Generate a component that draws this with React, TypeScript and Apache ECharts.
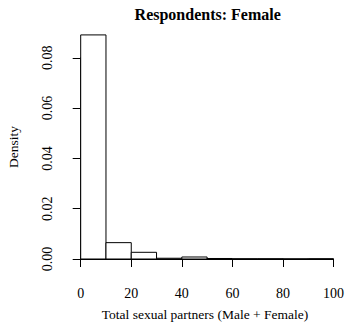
import React, { useEffect, useRef } from "react";
import * as echarts from "echarts";

// Histogram bins (lower and upper edges) and their densities
const binStarts = [0, 10, 20, 30, 40, 50, 60, 70, 80, 90];
const binEnds = [10, 20, 30, 40, 50, 60, 70, 80, 90, 100];
const densities = [0.0891, 0.0065, 0.00266, 0.0003, 0.0008, 0.0002, 0.0001, 0.0001, 0.00005, 0.0001];

const xTicks = [0, 20, 40, 60, 80, 100];
const yTicks = [0, 0.02, 0.04, 0.06, 0.08];

const chartTitle = "Respondents: Female";
const xTitle = "Total sexual partners (Male + Female)";
const yTitle = "Density";

const FONT = "'Liberation Serif', 'Times New Roman', serif";

export default function App() {
  const ref = useRef<HTMLDivElement>(null);

  useEffect(() => {
    document.body.style.margin = "0";
    const chart = echarts.init(ref.current!, undefined, { renderer: "svg" });

    const plotLeft = 80.7;
    const plotRight = 347 - 334.7;
    const baseY = 259;
    const pxPer = 50.3 / 0.02;
    const yMax = 0.09;
    const top0 = baseY - yMax * pxPer;
    const top1 = baseY - yTicks[yTicks.length - 1] * pxPer;
    const bottom = 334 - baseY;

    const data = binStarts.map((s, i) => [s, binEnds[i], densities[i]]);

    chart.setOption({
      animation: false,
      backgroundColor: "#ffffff",
      grid: [
        { left: plotLeft, right: plotRight, top: top0, bottom },
        { left: plotLeft, right: plotRight, top: top1, bottom },
      ],
      xAxis: [
        {
          gridIndex: 0,
          type: "value",
          min: 0,
          max: 100,
          interval: 20,
          offset: 9,
          axisLine: { show: true, lineStyle: { color: "#000", width: 1 } },
          axisTick: { show: true, length: 8, inside: false, lineStyle: { color: "#000" } },
          axisLabel: {
            show: true,
            margin: 18,
            color: "#000",
            fontFamily: FONT,
            fontSize: 14,
            customValues: xTicks,
          },
          splitLine: { show: false },
        },
        {
          gridIndex: 1,
          type: "value",
          min: 0,
          max: 100,
          show: false,
        },
      ],
      yAxis: [
        {
          gridIndex: 0,
          type: "value",
          min: 0,
          max: yMax,
          show: false,
        },
        {
          gridIndex: 1,
          type: "value",
          min: 0,
          max: 0.08,
          interval: 0.02,
          offset: 10,
          axisLine: { show: true, lineStyle: { color: "#000", width: 1 } },
          axisTick: { show: true, length: 8, lineStyle: { color: "#000" } },
          axisLabel: {
            show: true,
            rotate: 90,
            margin: 16,
            color: "#000",
            fontFamily: FONT,
            fontSize: 14,
            formatter: (v: number) => v.toFixed(2),
          },
          splitLine: { show: false },
        },
      ],
      series: [
        {
          type: "custom",
          xAxisIndex: 0,
          yAxisIndex: 0,
          data,
          renderItem: (params: any, api: any) => {
            const p0 = api.coord([api.value(0), api.value(2)]);
            const p1 = api.coord([api.value(1), 0]);
            return {
              type: "rect",
              shape: { x: p0[0], y: p0[1], width: p1[0] - p0[0], height: p1[1] - p0[1] },
              style: { fill: "#ffffff", stroke: "#000000", lineWidth: 1 },
            };
          },
        },
      ],
      graphic: [
        {
          type: "text",
          x: 207.7,
          y: 14,
          style: {
            text: chartTitle,
            font: `bold 16px ${FONT}`,
            fill: "#000",
            align: "center",
            verticalAlign: "middle",
          },
        },
        {
          type: "text",
          x: 205,
          y: 314,
          style: {
            text: xTitle,
            font: `13.5px ${FONT}`,
            fill: "#000",
            align: "center",
            verticalAlign: "middle",
          },
        },
        {
          type: "text",
          x: 13,
          y: 147,
          rotation: Math.PI / 2,
          style: {
            text: yTitle,
            font: `13.5px ${FONT}`,
            fill: "#000",
            align: "center",
            verticalAlign: "middle",
          },
        },
      ],
    });

    return () => chart.dispose();
  }, []);

  return <div ref={ref} style={{ width: 347, height: 334 }} />;
}
